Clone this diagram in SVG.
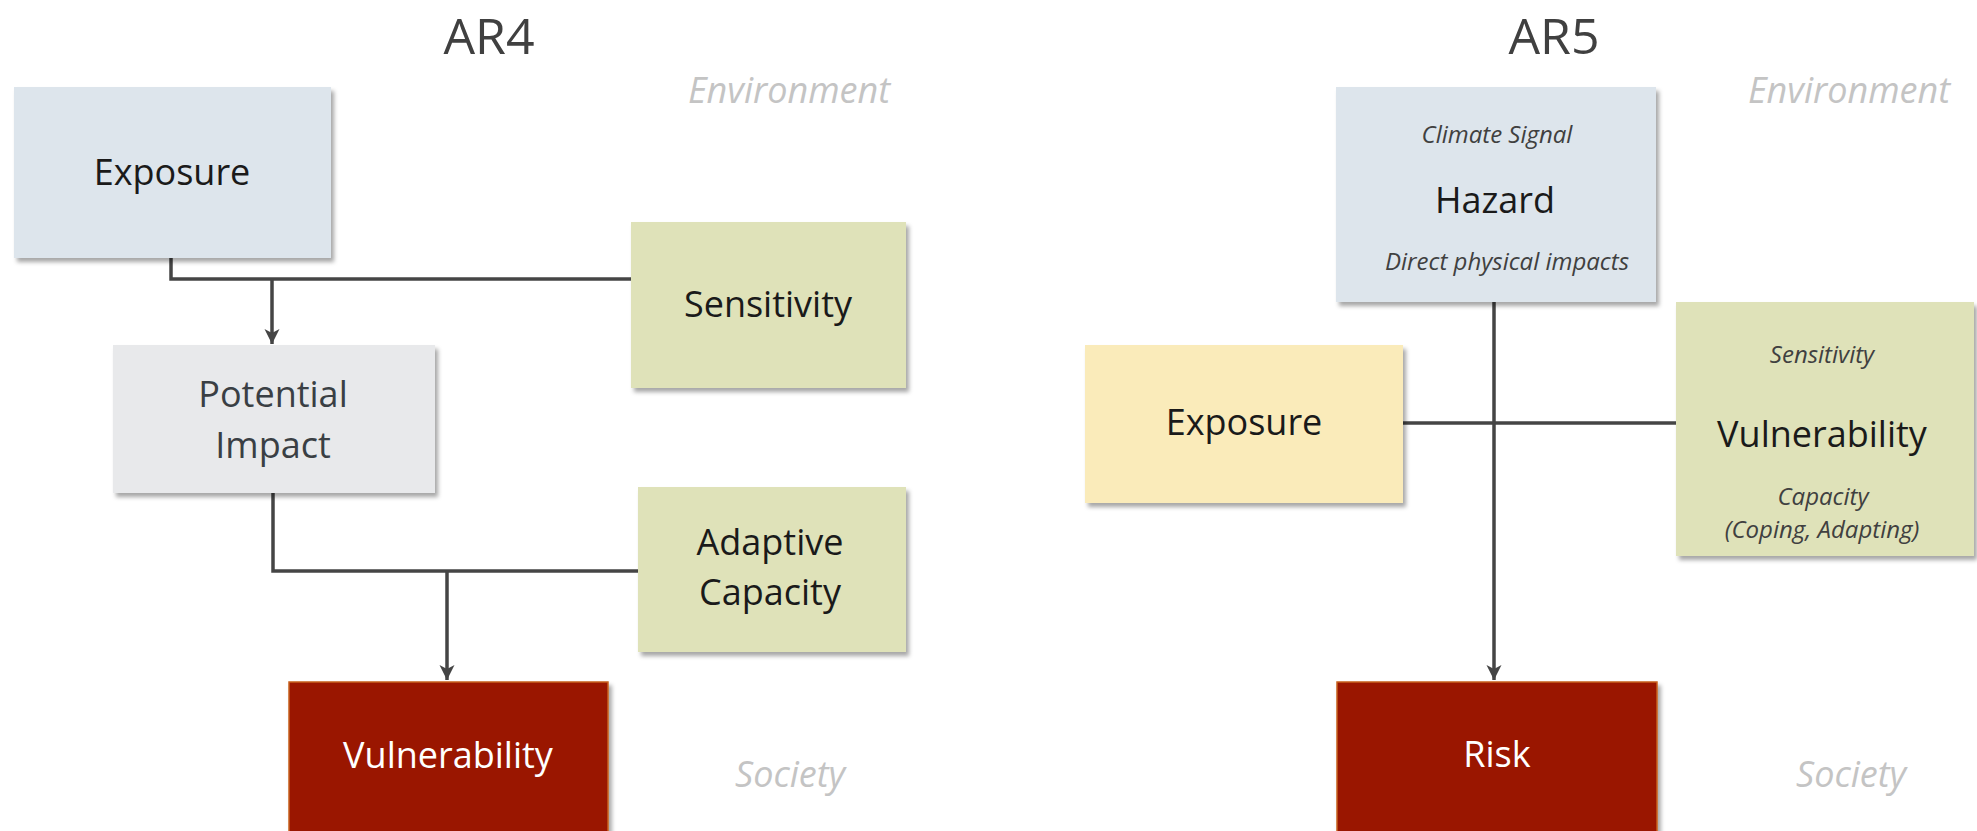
<svg xmlns="http://www.w3.org/2000/svg" width="1977" height="831" viewBox="0 0 1977 831">
<defs>
<filter id="sh" x="-10%" y="-10%" width="130%" height="130%">
<feDropShadow dx="3" dy="4" stdDeviation="2" flood-color="#000" flood-opacity="0.35"/>
</filter>
<marker id="ah" markerUnits="userSpaceOnUse" markerWidth="18" markerHeight="18" viewBox="0 0 18 18" refX="15" refY="9" orient="auto">
<path d="M0,1.5 L15,9 L0,16.5 L4,9 Z" fill="#454545"/>
</marker>
<style>
text{font-family:"Open Sans","DejaVu Sans",sans-serif;text-anchor:middle}
.title{font-size:50px;fill:#404040}
.lbl{font-size:36px;fill:#1a1a1a}
.sub{font-size:24px;font-style:italic;fill:#404040}
.zone{font-size:36px;font-style:italic;fill:#c4c4c4;text-anchor:start}
.wht{font-size:36px;fill:#ffffff}
.blue{fill:#dde5ec}
.olive{fill:#dfe2b9}
.grey{fill:#e8e9eb}
.yel{fill:#faebba}
.red{fill:#9a1600;stroke:#c8601c;stroke-width:1.5}
.con{fill:none;stroke:#454545;stroke-width:3.5}
</style>
</defs>
<rect width="1977" height="831" fill="#ffffff"/>

<text class="title" x="489" y="54">AR4</text>
<text class="title" x="1554" y="54">AR5</text>
<text class="zone" x="688" y="103">Environment</text>
<text class="zone" x="735" y="787">Society</text>
<text class="zone" x="1748" y="103">Environment</text>
<text class="zone" x="1796" y="787">Society</text>

<g id="connectors">
<path class="con" d="M171,258 V279 H631"/>
<path class="con" d="M272,279 V344" marker-end="url(#ah)"/>
<path class="con" d="M273,493 V571 H638"/>
<path class="con" d="M447,571 V680" marker-end="url(#ah)"/>
<path class="con" d="M1403,423 H1677"/>
<path class="con" d="M1494,302 V680" marker-end="url(#ah)"/>
</g>

<g id="ar4-exposure">
<rect class="blue" x="14" y="87" width="317" height="171" filter="url(#sh)"/>
<text class="lbl" x="172" y="185">Exposure</text>
</g>
<g id="ar4-sensitivity">
<rect class="olive" x="631" y="222" width="275" height="166" filter="url(#sh)"/>
<text class="lbl" x="768" y="317">Sensitivity</text>
</g>
<g id="ar4-potential-impact">
<rect class="grey" x="113" y="345" width="322" height="148" filter="url(#sh)"/>
<text class="lbl" x="273" y="407" style="fill:#3a3f44">Potential</text>
<text class="lbl" x="273" y="458" style="fill:#3a3f44">Impact</text>
</g>
<g id="ar4-adaptive-capacity">
<rect class="olive" x="638" y="487" width="268" height="165" filter="url(#sh)"/>
<text class="lbl" x="770" y="555">Adaptive</text>
<text class="lbl" x="770" y="605">Capacity</text>
</g>
<g id="ar4-vulnerability">
<rect class="red" x="289" y="682" width="319" height="160" filter="url(#sh)"/>
<text class="wht" x="448" y="768">Vulnerability</text>
</g>

<g id="ar5-hazard">
<rect class="blue" x="1336" y="87" width="320" height="215" filter="url(#sh)"/>
<text class="sub" x="1497" y="143">Climate Signal</text>
<text class="lbl" x="1495" y="213">Hazard</text>
<text class="sub" x="1507" y="270">Direct physical impacts</text>
</g>
<g id="ar5-exposure">
<rect class="yel" x="1085" y="345" width="318" height="158" filter="url(#sh)"/>
<text class="lbl" x="1244" y="435">Exposure</text>
</g>
<g id="ar5-vulnerability">
<rect class="olive" x="1676" y="302" width="298" height="254" filter="url(#sh)"/>
<text class="sub" x="1822" y="363">Sensitivity</text>
<text class="lbl" x="1822" y="447">Vulnerability</text>
<text class="sub" x="1823" y="505">Capacity</text>
<text class="sub" x="1822" y="538">(Coping, Adapting)</text>
</g>
<g id="ar5-risk">
<rect class="red" x="1337" y="682" width="320" height="160" filter="url(#sh)"/>
<text class="wht" x="1497" y="767">Risk</text>
</g>
</svg>
